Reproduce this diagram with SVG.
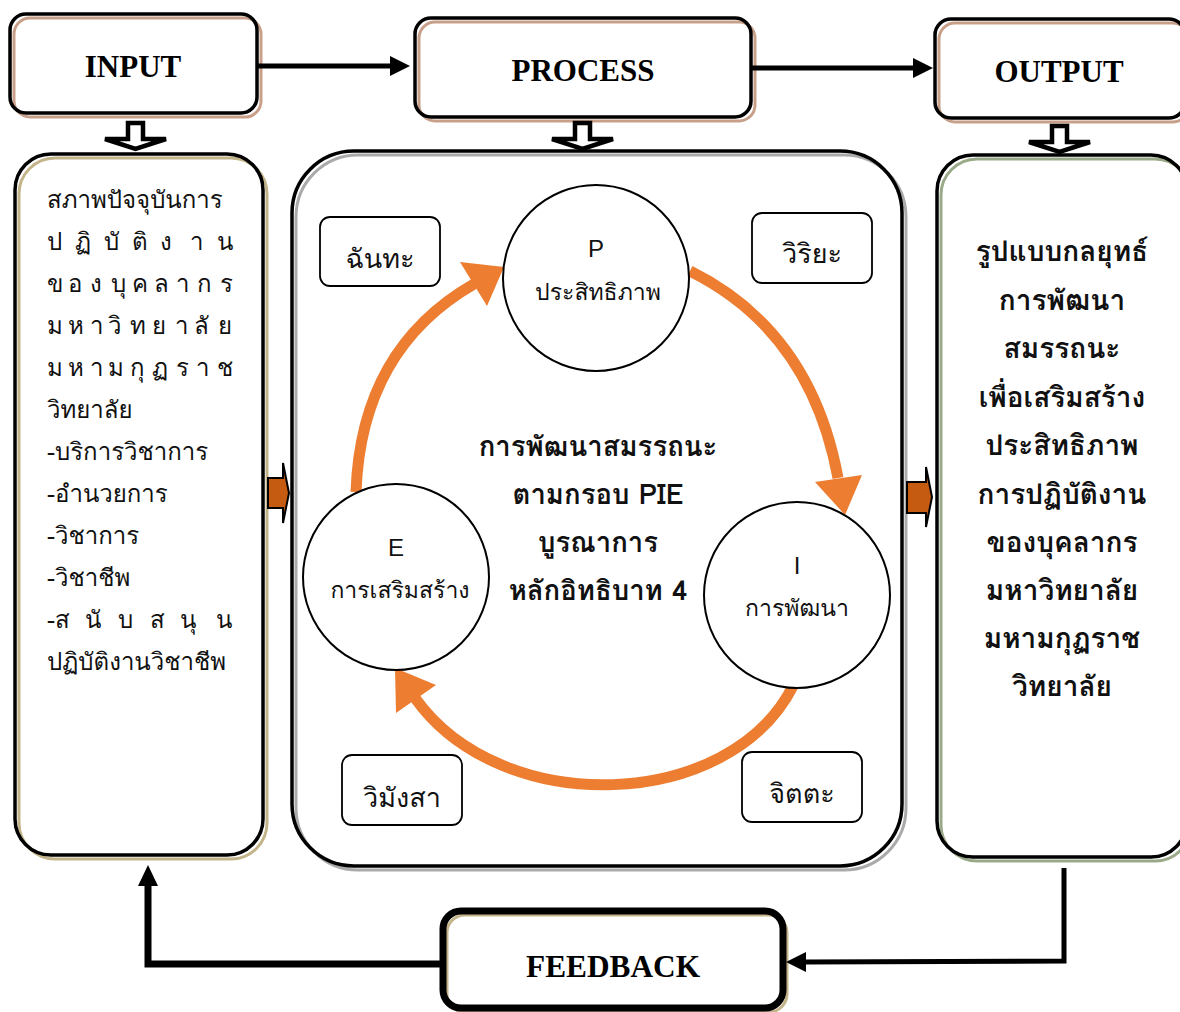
<svg xmlns="http://www.w3.org/2000/svg" width="1180" height="1012" viewBox="0 0 1180 1012">
<style>
.hdr{font-family:"Liberation Serif","Times New Roman",serif;font-weight:bold;font-size:31px;fill:#000;text-anchor:middle}
.th{font-family:"Tahoma","Leelawadee UI","Loma","Garuda","Noto Sans Thai Looped","Waree","Norasi","Noto Sans Thai","Noto Sans","DejaVu Sans",sans-serif;fill:#111}
.lat{font-family:"Liberation Sans","Noto Sans",sans-serif;font-size:24px;fill:#111;text-anchor:middle}
.lt{font-size:24px}
.rt{font-size:28px;font-weight:bold;text-anchor:middle}
.ct{font-size:27.5px;font-weight:bold;text-anchor:middle}
.cl{font-size:23px;text-anchor:middle}
.bx{font-size:27px;text-anchor:middle}
.box{fill:none;stroke:#000;stroke-width:3.5}
.conn{stroke:#000;stroke-width:5;fill:none}
.orng{stroke:#ED7D31;stroke-width:11;fill:none}
.ohead{fill:#ED7D31}
.blk{fill:#fff;stroke:#000;stroke-width:4.5;stroke-linejoin:miter}
.obl{fill:#C55A11;stroke:#000;stroke-width:2}
.sbox{fill:#fff;stroke:#000;stroke-width:1.8}
.circ{fill:#fff;stroke:#000;stroke-width:2}
</style>
<defs>
<marker id="ah" markerUnits="userSpaceOnUse" markerWidth="22" markerHeight="22" refX="0" refY="10" orient="auto">
<path d="M0,0 L20,10 L0,20 Z" fill="#000"/>
</marker>
</defs>
<rect width="1180" height="1012" fill="#fff"/>

<g id="input">
<rect x="14" y="18" width="247" height="99" rx="16" fill="none" stroke="#C8A08A" stroke-width="3"/>
<rect x="10" y="14" width="247" height="99" rx="16" class="box"/>
<text x="133" y="77" class="hdr">INPUT</text>
</g>
<g id="process">
<rect x="419" y="22" width="336" height="99" rx="16" fill="none" stroke="#C8A08A" stroke-width="3"/>
<rect x="415" y="18" width="336" height="99" rx="16" class="box"/>
<text x="583" y="81" class="hdr">PROCESS</text>
</g>
<g id="output">
<rect x="939" y="23" width="250" height="99" rx="16" fill="none" stroke="#C8A08A" stroke-width="3"/>
<rect x="935" y="19" width="250" height="99" rx="16" class="box"/>
<text x="1059" y="82" class="hdr">OUTPUT</text>
</g>

<g id="input-panel">
<rect x="19" y="158" width="248" height="701" rx="36" fill="none" stroke="#C4B48A" stroke-width="3"/>
<rect x="15" y="154" width="248" height="701" rx="36" class="box"/>
<g class="th lt">
<text x="47" y="208">สภาพปัจจุบันการ</text>
<text y="250"><tspan x="47">ป</tspan><tspan x="75">ฏิ</tspan><tspan x="104">บั</tspan><tspan x="132">ติ</tspan><tspan x="160">ง</tspan><tspan x="190">า</tspan><tspan x="217">น</tspan></text>
<text y="292"><tspan x="47">ข</tspan><tspan x="68">อ</tspan><tspan x="90">ง</tspan><tspan x="111">บุ</tspan><tspan x="132">ค</tspan><tspan x="154">ล</tspan><tspan x="176">า</tspan><tspan x="197">ก</tspan><tspan x="220">ร</tspan></text>
<text y="334"><tspan x="47">ม</tspan><tspan x="68">ห</tspan><tspan x="90">า</tspan><tspan x="108">วิ</tspan><tspan x="130">ท</tspan><tspan x="152">ย</tspan><tspan x="175">า</tspan><tspan x="194">ลั</tspan><tspan x="218">ย</tspan></text>
<text y="376"><tspan x="47">ม</tspan><tspan x="68">ห</tspan><tspan x="90">า</tspan><tspan x="108">ม</tspan><tspan x="130">กุ</tspan><tspan x="152">ฏ</tspan><tspan x="176">ร</tspan><tspan x="196">า</tspan><tspan x="217">ช</tspan></text>
<text x="47" y="418">วิทยาลัย</text>
<text x="47" y="460">-บริการวิชาการ</text>
<text x="47" y="502">-อำนวยการ</text>
<text x="47" y="544">-วิชาการ</text>
<text x="47" y="586">-วิชาชีพ</text>
<text y="628"><tspan x="47">-ส</tspan><tspan x="85">นั</tspan><tspan x="118">บ</tspan><tspan x="150">ส</tspan><tspan x="180">นุ</tspan><tspan x="216">น</tspan></text>
<text x="47" y="670">ปฏิบัติงานวิชาชีพ</text>
</g>
</g>

<g id="process-panel">
<rect x="296" y="155" width="610" height="715" rx="62" fill="none" stroke="#AAAAAA" stroke-width="3"/>
<rect x="292" y="151" width="610" height="715" rx="62" class="box"/>
<text class="th ct" x="598" y="456">การพัฒนาสมรรถนะ</text>
<text class="th ct" x="598" y="504">ตามกรอบ PIE</text>
<text class="th ct" x="598" y="552">บูรณาการ</text>
<text class="th ct" x="598" y="600">หลักอิทธิบาท 4</text>
</g>

<g id="chanta">
<rect x="320" y="217" width="120" height="69" rx="10" class="sbox"/>
<text class="th bx" x="380" y="268">ฉันทะ</text>
</g>
<g id="viriya">
<rect x="752" y="213" width="120" height="70" rx="10" class="sbox"/>
<text class="th bx" x="812" y="263">วิริยะ</text>
</g>
<g id="vimangsa">
<rect x="342" y="755" width="120" height="70" rx="10" class="sbox"/>
<text class="th bx" x="402" y="807">วิมังสา</text>
</g>
<g id="chitta">
<rect x="742" y="752" width="120" height="70" rx="10" class="sbox"/>
<text class="th bx" x="802" y="803">จิตตะ</text>
</g>

<g id="cycle">
<path class="orng" d="M356,492 Q361,349 474,284"/>
<polygon class="ohead" points="504,267 460,262 487,306"/>
<path class="orng" d="M690,271 Q811,331 838,478"/>
<polygon class="ohead" points="845,515 815,482 862,475"/>
<path class="orng" d="M793,686 C730,811 502,820 415,698"/>
<polygon class="ohead" points="395,668 396,713 436,685"/>
</g>

<g id="P">
<circle cx="596" cy="278" r="93" class="circ"/>
<text class="lat" x="596" y="257">P</text>
<text class="th cl" x="598" y="300">ประสิทธิภาพ</text>
</g>
<g id="E">
<circle cx="396" cy="577" r="93" class="circ"/>
<text class="lat" x="396" y="556">E</text>
<text class="th cl" x="400" y="598">การเสริมสร้าง</text>
</g>
<g id="I">
<circle cx="797" cy="595" r="93" class="circ"/>
<text class="lat" x="797" y="574">I</text>
<text class="th cl" x="797" y="616">การพัฒนา</text>
</g>

<g id="output-panel">
<rect x="941" y="159" width="250" height="702" rx="36" fill="none" stroke="#9AAA88" stroke-width="3"/>
<rect x="937" y="155" width="250" height="702" rx="36" class="box"/>
<g class="th rt">
<text x="1062" y="261">รูปแบบกลยุทธ์</text>
<text x="1062" y="310">การพัฒนา</text>
<text x="1062" y="358">สมรรถนะ</text>
<text x="1062" y="407">เพื่อเสริมสร้าง</text>
<text x="1062" y="455">ประสิทธิภาพ</text>
<text x="1062" y="504">การปฏิบัติงาน</text>
<text x="1062" y="552">ของบุคลากร</text>
<text x="1062" y="600">มหาวิทยาลัย</text>
<text x="1062" y="648">มหามกุฏราช</text>
<text x="1062" y="696">วิทยาลัย</text>
</g>
</g>

<g id="feedback">
<rect x="447" y="915" width="340" height="97" rx="18" fill="none" stroke="#C4B48A" stroke-width="3"/>
<rect x="443" y="911" width="340" height="97" rx="18" fill="none" stroke="#000" stroke-width="7"/>
<text x="613" y="977" class="hdr" textLength="174" lengthAdjust="spacingAndGlyphs">FEEDBACK</text>
</g>

<g id="connectors">
<line class="conn" x1="258" y1="66" x2="390" y2="66" marker-end="url(#ah)"/>
<line class="conn" x1="752" y1="68" x2="913" y2="68" marker-end="url(#ah)"/>
<polygon class="blk" points="128,123 143,123 143,139 166,139 135.5,149 105,139 128,139"/>
<polygon class="blk" points="575,123 590,123 590,139 613,139 582.5,149 552,139 575,139"/>
<polygon class="blk" points="1052,126 1067,126 1067,142 1090,142 1059.5,152 1029,142 1052,142"/>
<polygon class="obl" points="268,478 283,478 283,463 289,493 283,523 283,508 268,508"/>
<polygon class="obl" points="907,482 926,482 926,467 932,497 926,527 926,513 907,513"/>
<polyline class="conn" points="1064,868 1064,961 805,962" stroke-linejoin="miter"/>
<polygon points="786,962 806,952 806,972" fill="#000"/>
<polyline fill="none" stroke="#000" stroke-width="7" points="443,964 148,964 148,885" stroke-linejoin="miter"/>
<polygon points="148,865 138,886 158,886" fill="#000"/>
</g>
</svg>
